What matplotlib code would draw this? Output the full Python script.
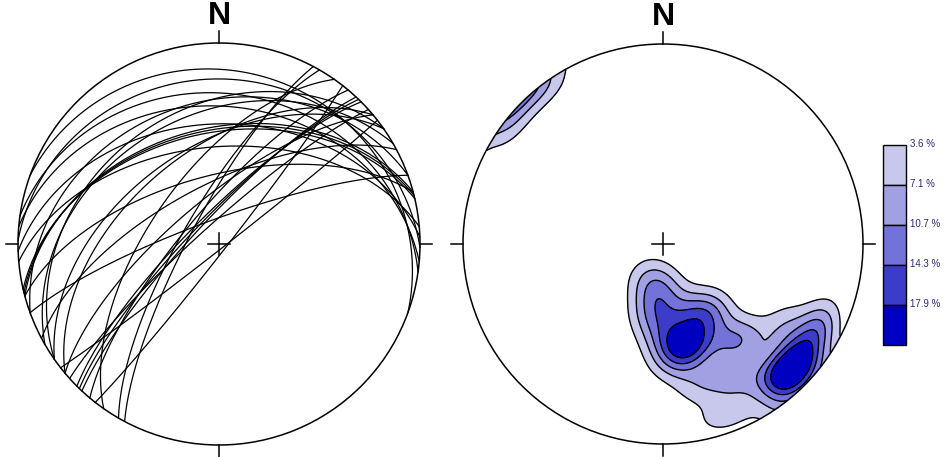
import numpy as np
import matplotlib
matplotlib.use("Agg")
import matplotlib.pyplot as plt
from matplotlib.patches import Circle, Rectangle

plt.rcParams['font.family'] = ['Liberation Sans', 'DejaVu Sans']

# poles to planes: trend, plunge (degrees), lower hemisphere
pole_trend = [166, 167, 165, 175, 145, 150, 160, 181, 140, 145, 185,
              188, 178, 200,
              134, 135, 133, 130, 138, 140,
              322, 308,
              160, 152, 165, 120, 125, 118]
pole_plunge = [47, 46, 48, 40, 57, 54, 60, 71, 38, 40, 58,
               64, 50, 75,
               11, 12, 10, 14, 8, 18,
               2, 3,
               10, 24, 28, 15, 28, 12]

levels_pct = [3.6, 7.1, 10.7, 14.3, 17.9]
level_labels = ['3.6 %', '7.1 %', '10.7 %', '14.3 %', '17.9 %']
fill_colors = ['#c8c8ec', '#a0a0e2', '#7272d8', '#3c3cca', '#0000c0']

W, H = 947, 457
LEFT_C, LEFT_R = (219, 457 - 244), 201
RIGHT_C, RIGHT_R = (663, 457 - 244), 200


def to_xyz(trend, plunge):
    t, p = np.radians(trend), np.radians(plunge)
    return np.array([np.cos(p) * np.sin(t), np.cos(p) * np.cos(t), np.sin(p)])


def project(vec):
    # equal-area (Schmidt) projection of lower hemisphere unit vectors
    e, n, d = vec
    flip = d < 0
    e, n, d = np.where(flip, -e, e), np.where(flip, -n, n), np.abs(d)
    plunge = np.arcsin(np.clip(d, -1, 1))
    r = np.sqrt(2) * np.sin((np.pi / 2 - plunge) / 2)
    h = np.hypot(e, n)
    h = np.where(h == 0, 1, h)
    return r * e / h, r * n / h


def great_circle(dip_dir, dip, n=200):
    s = np.radians(dip_dir - 90)
    dd, dp = np.radians(dip_dir), np.radians(dip)
    strike_v = np.array([np.sin(s), np.cos(s), 0.0])
    dip_v = np.array([np.cos(dp) * np.sin(dd), np.cos(dp) * np.cos(dd), np.sin(dp)])
    lam = np.linspace(0, np.pi, n)
    pts = np.outer(strike_v, np.cos(lam)) + np.outer(dip_v, np.sin(lam))
    return project(pts)


def draw_frame(ax, c, r):
    cx, cy = c
    ax.add_patch(Circle(c, r, fill=False, lw=1.1, color='k', zorder=5))
    tick = 12
    ax.plot([cx, cx], [cy + r, cy + r + tick], 'k', lw=1.1)
    ax.plot([cx, cx], [cy - r, cy - r - tick], 'k', lw=1.1)
    ax.plot([cx - r, cx - r - tick], [cy, cy], 'k', lw=1.1)
    ax.plot([cx + r, cx + r + tick], [cy, cy], 'k', lw=1.1)
    ax.plot([cx - 11, cx + 11], [cy, cy], 'k', lw=1.1, zorder=6)
    ax.plot([cx, cx], [cy - 11, cy + 11], 'k', lw=1.1, zorder=6)
    ax.text(cx, cy + r + tick, 'N', ha='center', va='bottom',
            fontsize=23, fontweight='bold')


fig = plt.figure(figsize=(W / 100, H / 100), dpi=100)
ax = fig.add_axes([0, 0, 1, 1])
ax.set_xlim(0, W)
ax.set_ylim(0, H)
ax.set_aspect('equal')
ax.axis('off')

# left: great circles of the planes
for t, p in zip(pole_trend, pole_plunge):
    x, y = great_circle((t + 180) % 360, 90 - p)
    ax.plot(LEFT_C[0] + LEFT_R * x, LEFT_C[1] + LEFT_R * y, 'k', lw=0.9)
draw_frame(ax, LEFT_C, LEFT_R)

# right: pole concentrations (% of total per 1% area)
poles = to_xyz(np.array(pole_trend), np.array(pole_plunge))
g = np.linspace(-1, 1, 501)
gx, gy = np.meshgrid(g, g)
rho = np.hypot(gx, gy)
inside = rho <= 1.0
rc = np.clip(rho, 0, 1)
plunge_g = np.pi / 2 - 2 * np.arcsin(rc / np.sqrt(2))
trend_g = np.arctan2(gx, gy)
grid_v = np.stack([np.cos(plunge_g) * np.sin(trend_g),
                   np.cos(plunge_g) * np.cos(trend_g),
                   np.sin(plunge_g)])
cosang = np.abs(np.tensordot(poles.T, grid_v, axes=1))
kappa, peak = 70.0, 1.45
dens = peak * np.exp(kappa * (cosang - 1)).sum(axis=0) * 100 / len(pole_trend)
dens = np.where(inside, dens, np.nan)

X = RIGHT_C[0] + RIGHT_R * gx
Y = RIGHT_C[1] + RIGHT_R * gy
clip = Circle(RIGHT_C, RIGHT_R, transform=ax.transData)
cf = ax.contourf(X, Y, dens, levels=levels_pct + [1000], colors=fill_colors)
cl = ax.contour(X, Y, dens, levels=levels_pct, colors='k', linewidths=1.0)
cf.set_clip_path(clip)
cl.set_clip_path(clip)
draw_frame(ax, RIGHT_C, RIGHT_R)

# legend bar
bx, bw, btop, bh = 883, 23, 457 - 145, 40
for i, (col, lab) in enumerate(zip(fill_colors, level_labels)):
    y0 = btop - (i + 1) * bh
    ax.add_patch(Rectangle((bx, y0), bw, bh, facecolor=col, edgecolor='k', lw=1.0))
    ax.text(bx + bw + 4, y0 + bh + 1, lab, ha='left', va='center',
            fontsize=7, color='#2a2a78')

fig.savefig('out.png', dpi=100)
